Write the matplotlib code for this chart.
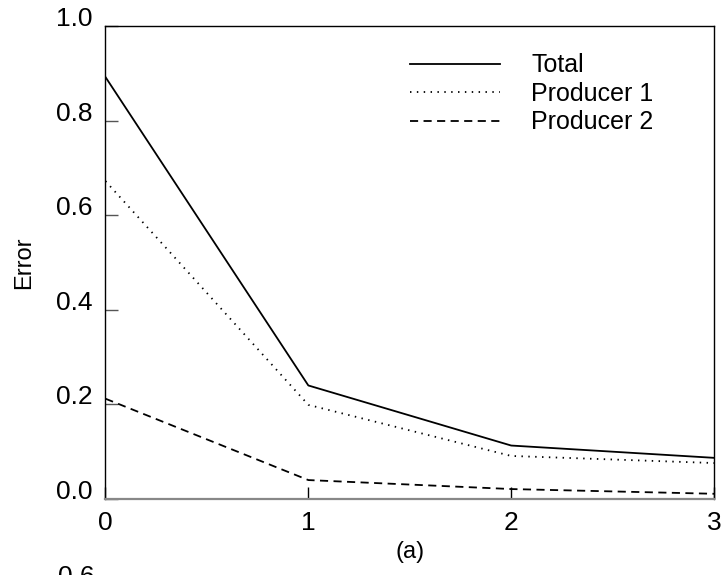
import matplotlib.pyplot as plt

plt.rcParams['font.family'] = ['Liberation Sans', 'DejaVu Sans']

steps = [0, 1, 2, 3]
total = [0.892, 0.240, 0.113, 0.087]
producer1 = [0.672, 0.199, 0.091, 0.076]
producer2 = [0.212, 0.040, 0.021, 0.011]

fig = plt.figure(figsize=(7.26, 5.75), dpi=100)
ax = fig.add_axes([0.1453, 0.1322, 0.8382, 0.8226])

ax.plot(steps, total, color='black', lw=1.3, label='Total')
ax.plot(steps, producer1, color='black', lw=1.3, linestyle=(0, (0.8, 3.0)), label='Producer 1')
ax.plot(steps, producer2, color='black', lw=1.3, linestyle=(0, (4.5, 3.0)), label='Producer 2')

ax.set_xlim(0, 3)
ax.set_ylim(0, 1.0)
ax.set_xticks([0, 1, 2, 3])
ax.set_yticks([0.0, 0.2, 0.4, 0.6, 0.8, 1.0])
ax.set_yticklabels(['0.0', '0.2', '0.4', '0.6', '0.8', '1.0'])
ax.tick_params(axis='both', direction='in', length=9, width=1, labelsize=19, pad=8)
ax.tick_params(axis='y', colors='#555555', labelcolor='black', pad=9)
ax.tick_params(axis='x', pad=9)
# y labels sit with their baseline on the tick
for lbl in ax.get_yticklabels():
    lbl.set_verticalalignment('baseline')

for s in ['left', 'top', 'right']:
    ax.spines[s].set_linewidth(1.0)
ax.spines['bottom'].set_color('#888888')
ax.spines['bottom'].set_linewidth(1.6)

ax.set_xlabel('(a)', fontsize=17, labelpad=4)
ax.set_ylabel('Error', fontsize=17, labelpad=15)

ax.legend(loc='upper left', bbox_to_anchor=(0.5004, 0.942), frameon=False, fontsize=18,
          handlelength=3.6, handletextpad=1.25, labelspacing=0.18, borderaxespad=0, borderpad=0)

# top of the next panel's tick label, cut off by the figure edge
fig.text(95 / 726, 1 - 565 / 575, '0.6', fontsize=19, ha='right', va='top')

fig.savefig('out.png', dpi=100)
